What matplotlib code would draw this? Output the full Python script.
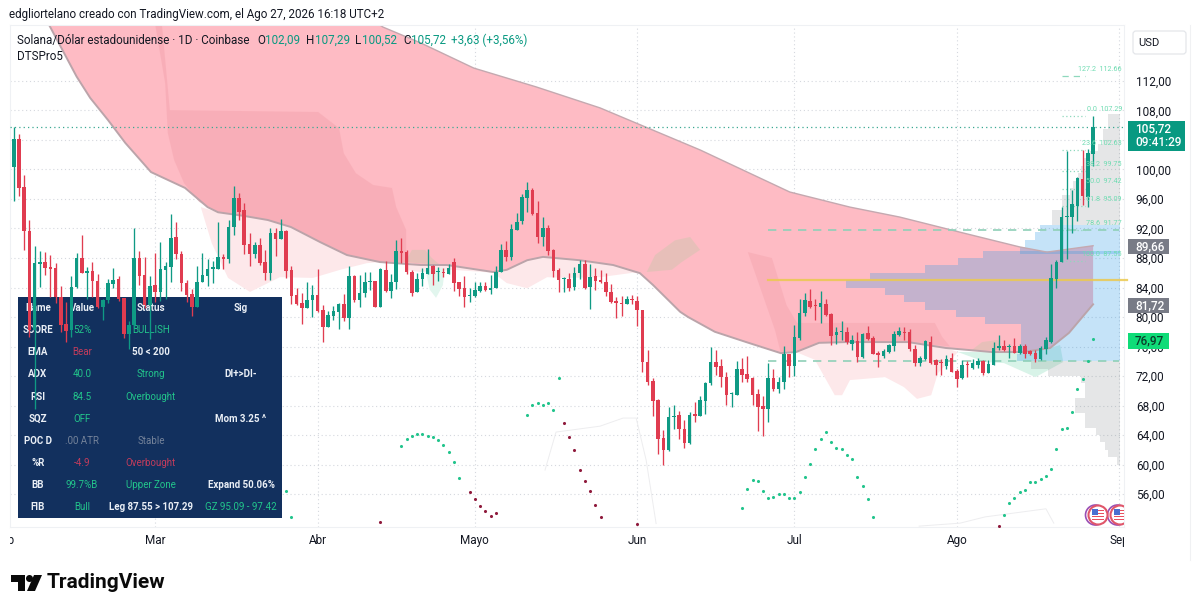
import numpy as np
import matplotlib
matplotlib.use('Agg')
import matplotlib.pyplot as plt
from matplotlib.patches import Rectangle, Circle, Polygon, FancyBboxPatch
from matplotlib.transforms import Affine2D, Bbox

# daily candles, 2 Feb -> 27 Ago
open_ = [100.38,104.2,97.6,91.7,78.2,87.2,87.4,86.8,86.6,82.75,
 79,78.2,84.1,87.95,85.9,86.2,84.9,81.3,82.3,84.5,
 85.1,82.6,77.7,78.9,87.95,85.7,81.6,84.3,83.4,86.4,
 86.8,90.9,88.6,84.55,83.1,81.4,84.75,85.6,86.5,86.55,
 88.1,87.9,92.25,96.1,94.5,89.9,88.6,89.7,87.4,85.9,
 91.35,90.6,91.6,86.4,83,81.9,81.2,82.3,83,81,
 78.7,80.1,80.7,81.75,79.8,85.55,82.3,83.2,84.7,84.9,
 81.4,86.4,83.5,84.8,89,88.75,86.05,83.35,85.1,85.85,
 86.95,86.05,86.15,85.85,87.4,84.7,83.9,82.9,82.9,83.5,
 84.15,83.7,84,86.05,89.05,88.1,91.8,93,96.2,97.2,
 94.05,90.9,92,89.1,86.35,85.1,85.15,84.05,85.9,87.25,
 84.1,85.55,85.05,84.8,83.45,82.15,81.85,81.75,82.45,82.15,
 81,73.95,71.3,68.75,63.55,61.95,66.4,66.65,64.8,62.95,
 66.85,66.6,68.65,71.1,73.85,73.35,71.9,69.5,69.4,73,
 72.25,71.75,69.55,67.95,67.5,71.75,70.25,71.2,74.95,73.35,
 77.2,80.5,82.2,81.65,81.4,81.75,80.4,77.55,78,78,
 76.4,76.75,74.6,77.8,77.2,75.15,74.7,75.3,76.05,77.55,
 78,77.9,75.65,73.7,74.3,76.65,74.15,73.85,73.35,74.4,
 72.7,71.7,73.65,73.15,73.5,74,72.45,73.5,75.85,76.05,
 75.9,76.05,75.15,76.05,75.4,75.15,74.3,75.6,76.65,85.1,
 87.5,93.6,93.6,95.05,98.65,96.3,102.09]
high = [105.8,104.8,99.25,93.1,89.6,89,88.85,88.4,87.3,84.2,
 82.1,85.5,88.7,91.1,86.75,87.5,85.8,82.5,85.2,86.6,
 85.5,82.6,79.4,92,89,88.2,85.5,88.7,90.2,87.4,
 93.9,92.9,88.95,85,83.75,86.9,88.7,87.9,87.6,92.9,
 88.55,93.1,97.7,96.8,95.5,91.35,90.2,90.65,89.1,92.1,
 92.1,93.25,91.8,86.9,84,83.2,84.8,84.4,86.5,81.6,
 80.85,81.5,81.95,83.1,86.9,85.7,85.7,86.15,86.15,84.9,
 86.6,87.6,85.8,90.45,90.75,89.1,86.4,86,86.7,89.2,
 87.05,86.8,86.6,87.15,87.95,84.8,85.5,83.9,84.7,84.8,
 84.8,85.7,86.9,89.85,90.3,92.65,94.05,96.65,98.25,97.45,
 95.75,93.5,92.45,89.2,86.6,85.45,85.9,86.8,87.7,87.7,
 87.25,86.7,86.35,85.9,84.45,82.75,82.9,82.9,83.05,82.9,
 81,75.5,71.75,68.85,64.7,67.85,68.05,67.25,66,67.15,
 68.5,69.3,71.15,75.95,75.5,74.3,72.5,69.9,74.1,74.5,
 74.75,71.8,70.2,69.3,73.7,72.9,71.8,76.1,75.05,78.85,
 82.5,83.2,83.75,82.5,83.5,82.45,80.6,78.7,79.45,78.7,
 77.55,78,77.8,78.8,77.45,75.45,75.6,76.4,78.1,78.7,
 78.6,78.4,76.2,74.7,76.9,77.4,74.3,74.3,74.85,75.15,
 73,74.15,74,74.3,74.5,74.15,74.15,76.55,77.55,76.9,
 76.4,77.1,76.4,76.3,75.5,75.5,76.05,77.25,87.2,87.7,
 94.95,102.55,97.2,99,102.7,102.8,107.29]
low = [95.7,96.4,89.1,77.3,67.5,84.1,85.7,82.75,81.85,78,
 76.6,77.3,84,85.9,82.5,82.75,81.2,79.6,81.85,83.9,
 82.2,77.1,75.7,78.5,84.3,81.2,77,82,82.2,82.5,
 84.8,87.8,83.55,82.1,80.2,81.4,84.75,84.2,84.6,86.5,
 86.5,87.3,91.1,93.1,88.55,86.95,87.95,87.05,85,85,
 88.3,90.6,85.25,81.75,81.6,79.05,81.2,80.05,80.7,76.65,
 78.7,79.6,78.4,79.5,78.35,82.1,81.3,82.65,83.65,81.3,
 81.3,83.4,82.6,83.85,87.3,85.8,82.9,83.35,84.2,85.85,
 84.4,84.9,85.45,85.8,83.55,82.9,81.3,82.1,82.75,83.4,
 83.55,83.1,83.9,86.05,87.6,87.7,91.75,92.55,94.2,93.8,
 90.05,89.65,88.4,85.45,83.35,83.45,83.55,83.65,85.15,83.8,
 81.15,83.65,84.55,82.9,81.95,79.8,80.15,81.7,81.7,78.8,
 72.5,70.8,66.6,61.4,60,61.85,64.8,63.45,62.3,62.85,
 65.8,66.6,66.8,70.8,72.2,70.55,68.05,67.85,69.4,71.2,
 71.2,68.05,64.6,63.9,65.8,70,69.65,70.25,71.8,72.05,
 76.9,80.2,81.2,79.6,79.15,80.1,76.2,76.4,76.9,76.4,
 75.5,73.95,74.4,76.9,74.95,73.25,74.4,75.15,75.4,77.4,
 76.9,75.4,73.4,73.35,74.15,73.6,72.1,72.1,72.9,72.5,
 70.45,71.6,71.8,73,73.15,72.2,72.35,73.5,75.5,75.4,
 74.5,75.15,74.95,74.5,74.85,73.95,74.15,75,76.5,83.9,
 87.5,87.8,91.35,93,95.2,94.9,100.52]
close = [104.2,97.5,91.7,78.2,87.27,87.4,86.7,86.55,82.75,78.9,
 78.1,84.1,87.95,85.9,86.2,84.9,81.4,82.3,84.6,85,
 82.4,77.7,78.9,87.95,85.6,81.6,84.25,83.4,86.5,86.9,
 90.7,88.5,84.6,83,81.3,84.8,85.7,86.5,86.75,88.1,
 87.85,92.25,96.1,94.3,89.8,88.6,89.7,87.3,86,91.35,
 90.6,91.6,86.3,82.85,81.7,81.2,82.3,83,80.85,78.7,
 80.3,80.8,81.75,79.8,85.5,82.3,83.2,84.7,84.85,81.3,
 86.45,83.5,84.8,89,88.7,86.05,83.3,85.15,86,86.7,
 85.8,86.1,86,86.7,84.55,83.8,82.75,82.95,83.65,84.2,
 83.65,84,86.05,89.05,88.1,91.9,92.9,96.3,97.2,94,
 90.9,92,89,86.3,85,85.35,84,85.95,87.25,84,
 85.45,84.9,84.7,83.45,82.05,81.85,81.8,82.4,82.25,81,
 73.85,71.2,68.65,63.45,61.95,66.4,66.6,64.75,62.95,66.7,
 66.6,68.75,71.1,73.85,73.25,71.8,69.4,69.6,73,72.2,
 71.6,69.4,67.85,67.5,71.75,70.2,71.2,74.95,73.35,77.35,
 80.5,82.3,81.4,81.5,81.85,80.25,77.45,77.9,78.05,76.55,
 76.9,74.6,77.7,77,75,74.85,75.45,76.2,77.7,78.1,
 77.85,75.65,73.7,74.5,76.8,73.8,73.5,73.7,74.3,72.5,
 71.6,73.5,73.5,73.7,74,72.35,73.6,75.85,76.05,75.5,
 76.05,75.15,76.05,75.05,75.05,74.3,75.85,76.9,85.25,87.5,
 93.5,93.7,95.3,98.8,96.4,102.2,105.72]

# moving averages (bar index, price)
ema50_idx = [3,6.9,12,14.6,18,21.3,26.2,32.7,37,39,44,48.5,52.9,58.5,63.6,69.9,77.7,82.7,91.5,94.1,98,101,108,114.4,119.5,
 122,127.2,128.7,133.8,139.8,146.4,149.3,153.7,158.8,170.7,177.9,186.7,192.6,197.8,201.4,206]
ema50_val = [124,119.4,112.6,109.7,106.7,103.6,99.65,97.5,94.9,94.2,93.7,93.15,92.2,90.15,88.4,87.45,87.05,87.05,86.1,86.4,87.7,88.15,87.7,87.05,85.95,
 84.35,80.7,80,78,76.6,75.1,75.25,76.5,76.6,76.6,75.8,75.25,75.25,75.8,77.85,81.72]
ema200_idx = [60,70.5,77.7,87.8,99.7,111.9,131,148.1,159.6,169.1,180.6,192,197.2,206]
ema200_val = [124,119.3,117.15,113.75,111.2,108.35,102.65,96.95,94.9,93.55,91.5,89.5,88.8,89.66]

# darker bands on the cloud
zone1_idx = [27,28.3,29.8,58.1,62.1,63,65.3,68.6,72.2,73,74.9,74.9,69.9,63.6,58.5,52.9,48.5,39,35.4,32.5,30.6,29.4,28.9]
zone1_val = [119.6,119.6,108.05,107.8,105.6,102.2,99.5,97.9,97.5,94.9,91.8,87.45,87.45,88.4,90.15,92.2,93.15,94.2,95.6,98.15,101.3,104.95,111.7]
zone2_idx = [140.1,144.7,147.5,149.5,175.8,177.2,178.7,170.7,158.8,153.7,149.3,146.4,145.3]
zone2_val = [88.8,88,81.6,79.2,79.2,77.3,76,76.6,76.6,76.5,75.25,75.1,78.2]

# pale areas under the cloud
pale1_idx = [35.7,37.8,40.9,45.1,50.8,57.1,62.3,67.4,69.9,63.6,58.5,52.9,48.5,39]
pale1_val = [94.9,90,85.3,83.4,85.4,85.3,86.4,87.3,87.45,88.4,90.15,92.2,93.15,94.2]
pale2_idx = [74.9,77.5,83.9,91.5,94.1,98,101.8,105.6,111.9,118.2,119.5,114.4,108,101,98,94.1,91.5,82.7,77.7,74.9]
pale2_val = [86.4,86.1,86.4,86,84.6,83.9,85.4,85.3,85.4,86,85.95,87.05,87.7,88.15,87.7,86.4,86.1,87.05,87.05,87.4]
pale3_idx = [149.3,152.9,156.7,158.1,159.6,166.3,169.9,172.4,175.1,176.4,180.2,177.9,170.7,158.8,153.7]
pale3_val = [75.25,74.2,69.4,69.4,71.45,71.85,70.5,68.9,69.4,72.4,75.25,75.8,76.6,76.6,76.5]
mint1_idx = [78.5,82.3,81.9,80.6,79.4]
mint1_val = [86.6,86.6,84.3,82.6,83.7]
mint2_idx = [180.2,186.7,192.6,197.8,199.7,200.3,195,189,185.4]
mint2_val = [75.25,75.25,75.25,75.8,76.2,73.9,71.85,73.75,73.9]
olive1_idx = [74.7,76,78.5,79.8,81.4]
olive1_val = [87.45,89.1,89.1,88,87.05]
olive2_idx = [120.8,122.4,126.2,129.1,131,127.5,125.6]
olive2_val = [86.1,88.4,90.4,90.85,89.1,87.45,86.4]
olive3_idx = [182.8,184.8,187.8,188.6]
olive3_val = [75.5,76.6,76.9,75.5]

# volume profile: bin price and left edge as bar index
vp_price = [107,106,105,104,103,102,101,100,99,98,97,96,95,94,93,92,91,90,89,88.5,87.5,86.5,85.5,84.5,83.5,82.5,81.5,80.5,79.5,
 78.5,77.5,76.5,75.5,74.5,73.5,72.5,71.5,70.5,69.5,68.5,67.5,66.5,65.5,64.5,63.5,62.5,61.5,60.5]
vp_left = [208.8,208.8,207.9,207.9,206.9,205.5,204.1,203.6,203.1,202.2,201.6,200.1,200.1,198.1,198.1,195.9,194.9,193,192,
 185,180.2,173.9,163.4,158.8,166.3,169.9,173.9,179.8,185.4,192.2,192.2,192.2,192.2,191.5,194.2,197.4,203.7,204.5,204.5,202.5,202.5,204.5,204.5,206.6,207.3,208.3,208.8,210.5]

fib_lvl = ['127.2','0.0','23.6','38.2','50.0','61.8','78.6','100.0']
fib_val = [112.66,107.29,102.63,99.75,97.42,95.09,91.77,87.55]

# dots near the bottom
dotg_idx = [52,53,74,75,76,77,78,79,80,81,82,83,84,85,98,99,100,101,102,103,104,
 139,140,141,142,143,144,145,146,147,148,149,150,151,152,153,154,155,156,157,158,159,160,161,162,163,164,
 189,190,191,192,193,194,195,196,197,198,199,200,201,202,203,204,205,206]
dotg_val = [56.4,52.9,62.5,63.45,63.85,64.15,64.15,63.85,63.7,63.3,62.6,61.7,60.35,58.15,66.7,68.05,68.3,68.05,68.3,67.4,71.7,
 54.1,56.7,57.9,57.8,56.4,55.45,55.6,56,56,55.45,55.45,56.3,58.3,60.05,62.1,63.45,64.4,63.05,62.25,62.1,61.3,60.75,58.3,57.1,55.3,52.9,
 53.15,54.8,55.45,56.3,56.55,57.65,57.65,58.05,58.45,59.4,62.1,64.8,64.95,67.1,70.25,71.6,74.05,76.97]
dotr_idx = [70,87,88,89,90,91,92,105,106,107,108,109,110,111,112,119,188]
dotr_val = [52.2,56.25,55.3,54.4,53.7,53,53.4,65.6,63.7,61.95,59.25,57.8,56.4,54.5,52.9,51.9,51.65]

# faint line at the bottom
adx1_idx = [101.4,103.5,111.9,116.3,118.8,120.7,122.6]
adx1_val = [59.25,64.4,65.2,66.3,66.3,60.6,52]
adx2_idx = [172.8,180.6,185.4,197,198.5]
adx2_val = [51.65,52.05,52.9,54,52.05]

yticks = [112,108,104,100,96,92,88,84,80,76,72,68,64,60,56]
month_idx = [27,58,88,119,149,180,211]
month_lbl = ['Mar','Abr','Mayo','Jun','Jul','Ago','Sep']

table_rows = [
 ['Name','Value','Status','Sig'],
 ['SCORE','52%','BULLISH',''],
 ['EMA','Bear','50 < 200',''],
 ['ADX','40.0','Strong','DI+>DI-'],
 ['RSI','84.5','Overbought',''],
 ['SQZ','OFF','','Mom 3.25 ^'],
 ['POC D','.00 ATR','Stable',''],
 ['%R','-4.9','Overbought',''],
 ['BB','99.7%B','Upper Zone','Expand 50.06%'],
 ['FIB','Bull','Leg 87.55 > 107.29','GZ 95.09 - 97.42'],
]
W = '#e9eef5'; G = '#22c58b'; R = '#c43c5c'; D = '#75839a'
table_cols = [
 [W,W,W,W],
 [W,G,G,W],
 [W,R,W,W],
 [W,G,G,W],
 [W,G,G,W],
 [W,G,G,W],
 [W,D,D,W],
 [W,R,R,W],
 [W,G,G,W],
 [W,G,W,G],
]

plt.rcParams['font.family'] = ['Roboto', 'DejaVu Sans']
UP = '#0f9a84'
DOWN = '#e03c50'

fig = plt.figure(figsize=(12, 6.12), dpi=100, facecolor='white')
ax = fig.add_axes([10/1200, 1-527/612, 1114/1200, 502/612])
px = Affine2D().scale(1/1200, -1/612).translate(0, 1) + fig.transFigure

ax.set_xlim(-0.71, 211.9)
ax.set_ylim(51.53, 119.59)
ax.set_axisbelow(True)
ax.yaxis.tick_right()
ax.set_yticks(yticks)
# 104 sits behind the last price tag
ax.set_yticklabels(['' if v == 104 else '%d,00' % v for v in yticks], fontsize=8.5, color='#131722')
ax.set_xticks(month_idx)
ax.set_xticklabels(month_lbl, fontsize=8.5, color='#131722')
ax.tick_params(length=0)
ax.tick_params(axis='y', pad=8.5)
ax.tick_params(axis='x', pad=5)
ax.grid(True, color='#d5d8de', ls=(0, (1, 2.5)), lw=0.8)
for s in ax.spines.values():
    s.set_color('#eff1f4')
    s.set_linewidth(0.8)
for lbl in ax.get_xticklabels():
    lbl.set_clip_box(Bbox([[10, 0], [1124, 612]]))
    lbl.set_clip_on(True)
feb = ax.text(5, 540, 'Feb', transform=px, fontsize=8.5, color='#131722', ha='center', va='center')
feb.set_clip_box(Bbox([[10, 0], [1124, 612]]))
feb.set_clip_on(True)

# cloud
ax.fill(np.r_[ema50_idx, ema200_idx[::-1]], np.r_[ema50_val, ema200_val[::-1]], color='#febbc4', lw=0, zorder=1)
ax.fill(zone1_idx, zone1_val, color='#f4a3ad', alpha=0.5, lw=0, zorder=1.1)
ax.fill(zone2_idx, zone2_val, color='#f4a3ad', alpha=0.45, lw=0, zorder=1.1)
for xs, ys in [(pale1_idx, pale1_val), (pale2_idx, pale2_val), (pale3_idx, pale3_val)]:
    ax.fill(xs, ys, color='#fde8ea', lw=0, zorder=1.1)
ax.fill(mint1_idx, mint1_val, color='#e2f6ee', lw=0, zorder=1.1)
ax.fill(mint2_idx, mint2_val, color='#d8f3e8', lw=0, zorder=1.1)
for xs, ys in [(olive1_idx, olive1_val), (olive2_idx, olive2_val), (olive3_idx, olive3_val)]:
    ax.fill(xs, ys, color='#c4c8a8', alpha=0.38, lw=0, zorder=1.2)

# volume profile
vp_right = 211.1
vp_price = np.array(vp_price)
vp_left = np.array(vp_left)
in_va = (vp_price < 92.5) & (vp_price > 74)
ax.barh(vp_price[in_va], vp_right - vp_left[in_va], left=vp_left[in_va], height=1.0, color='#309be6', alpha=0.28, lw=0, zorder=1.5)
ax.barh(vp_price[~in_va], vp_right - vp_left[~in_va], left=vp_left[~in_va], height=1.0, color='#7d8588', alpha=0.2, lw=0, zorder=1.5)

ax.plot(ema50_idx, ema50_val, color='#bba4aa', lw=1.4, zorder=2, solid_joinstyle='round')
ax.plot(ema200_idx, ema200_val, color='#c4a9b0', lw=1.0, zorder=2, solid_joinstyle='round')
ax.plot(adx1_idx, adx1_val, color='#ededef', lw=0.7, zorder=2)
ax.plot(adx2_idx, adx2_val, color='#ededef', lw=0.7, zorder=2)

# levels
ax.hlines(105.72, -0.71, 211.9, color='#3aa892', linestyles=(0, (1, 2.5)), lw=0.9, zorder=3)
ax.hlines(91.77, 144, 211, color='#8fd0b8', linestyles=(0, (5, 4)), lw=1.2, zorder=3)
ax.hlines(74.03, 144, 211, color='#8fd0b8', linestyles=(0, (5, 4)), lw=1.2, zorder=3)
ax.plot([144, 212.4], [85, 85], color='#ebc94f', lw=1.6, alpha=0.85, zorder=3, clip_on=False)
for lvl, val in zip(fib_lvl, fib_val):
    ls = (0, (5, 4)) if lvl == '127.2' else (0, (1, 2))
    ax.hlines(val, 200, 204.5, color='#8fd8bd', linestyles=ls, lw=0.9, zorder=3)
    ax.annotate(lvl + '  ' + ('%.2f' % val), (211.5, val), xytext=(0, 2.2), textcoords='offset points',
                ha='right', va='bottom', fontsize=5.2, color='#6fdcb2', zorder=6)

# table panel under the candles
ax.add_patch(Rectangle((18, 297), 264, 221, transform=px, color='#12305e', lw=0, zorder=3.5, clip_on=False))
col_x = [38, 82, 151, 241]
row_y = [308, 330, 352, 374, 397, 419, 441, 463, 485, 507]
for r, cells in enumerate(table_rows):
    for k, txt in enumerate(cells):
        if txt:
            ax.text(col_x[k], row_y[r], txt, transform=px, ha='center', va='center', fontsize=7,
                    color=table_cols[r][k], fontweight='bold' if table_cols[r][k] == W else 'normal', zorder=3.6)

# candles
open_ = np.array(open_); high = np.array(high); low = np.array(low); close = np.array(close)
days = np.arange(len(close))
cols = np.where(close >= open_, UP, DOWN)
ax.vlines(days, low, high, colors=cols, lw=0.95, zorder=4)
ax.bar(days, np.maximum(np.abs(close - open_), 0.15), bottom=np.minimum(open_, close), width=0.68, color=cols, lw=0, zorder=4.1)

# dots
ax.scatter(dotg_idx, dotg_val, s=5, color='#22c48c', lw=0, zorder=4.5)
ax.scatter(dotr_idx, dotr_val, s=5, color='#8f1a3c', lw=0, zorder=4.5)

# flag markers
for cx in [1098, 1120]:
    ax.add_patch(Circle((cx - 2.5, 515), 10, transform=px, fc='white', ec='#9a4fb5', lw=1.2, zorder=7))
    ax.add_patch(Circle((cx, 515), 9.5, transform=px, fc='white', ec='#e0566a', lw=1.5, zorder=7.1))
    ax.add_patch(Rectangle((cx - 6, 509), 6, 5.5, transform=px, color='#4a6fd0', lw=0, zorder=7.2))
    ax.add_patch(Rectangle((cx - 6, 515.5), 12, 1.6, transform=px, color='#e8505f', lw=0, zorder=7.2))
    ax.add_patch(Rectangle((cx - 6, 518.5), 12, 1.6, transform=px, color='#e8505f', lw=0, zorder=7.2))
    ax.add_patch(Rectangle((cx, 509.5), 6, 1.6, transform=px, color='#e8505f', lw=0, zorder=7.2))
    ax.add_patch(Rectangle((cx, 512.5), 6, 1.6, transform=px, color='#e8505f', lw=0, zorder=7.2))

# price tags on the scale
def tag(x0, y0, w, h, color, lines, tcol='white', fs=8.5):
    ax.add_patch(Rectangle((x0, y0), w, h, transform=px, color=color, lw=0, zorder=10, clip_on=False))
    for (t, y) in lines:
        ax.text(x0 + 7, y, t, transform=px, ha='left', va='center', color=tcol, fontsize=fs, fontweight='medium', zorder=11)

tag(1128, 121, 57, 30, '#089981', [('105,72', 128.5), ('09:41:29', 142.5)])
tag(1128, 239, 41, 15, '#787b86', [('89,66', 246.5)])
tag(1128, 298, 41, 15, '#787b86', [('81,72', 305.5)])
tag(1128, 333, 41, 16, '#0fdc78', [('76,97', 341)], tcol='#0b3b2a')

# usd button
ax.add_patch(FancyBboxPatch((1133, 31), 53, 23, boxstyle='round,pad=0,rounding_size=3', transform=px,
                            fc='white', ec='#e4e6ea', lw=0.9, zorder=10, clip_on=False))
ax.text(1149, 43, 'USD', transform=px, ha='center', va='center', fontsize=8, color='#131722', zorder=11)

# titles
ax.text(9, 14.5, 'edgliortelano creado con TradingView.com, el Ago 27, 2026 16:18 UTC+2', transform=px,
        va='center', fontsize=8.4, color='#131722', zorder=11)
DK = '#131722'; GN = '#089981'
for x, t, c in [(17, 'Solana/Dólar estadounidense · 1D · Coinbase', DK), (257, 'O', DK), (265, '102,09', GN),
                (306, 'H', DK), (315, '107,29', GN), (355, 'L', DK), (362, '100,52', GN),
                (403, 'C', DK), (411, '105,72', GN), (451, '+3,63 (+3,56%)', GN)]:
    ax.text(x, 40.5, t, transform=px, va='center', fontsize=8.4, color=c, zorder=11)
ax.text(17, 57, 'DTSPro5', transform=px, va='center', fontsize=8.4, color=DK, zorder=11)

# logo and wordmark
lg = dict(transform=px, color='#0a0a0a', lw=0, clip_on=False, zorder=11)
ax.add_patch(Polygon([(11, 575), (25, 575), (25, 591), (18, 591), (18, 582), (11, 582)], **lg))
ax.add_patch(Circle((29.5, 578.5), 3.5, **lg))
ax.add_patch(Polygon([(34, 575), (42, 575), (35, 591), (27, 591)], **lg))
ax.text(47, 583, 'TradingView', transform=px, va='center', fontsize=15, fontweight='bold', color='#0a0a0a', zorder=11)

# page edge on the right
fig.add_artist(plt.Line2D([1190/1200, 1190/1200], [1-560/612, 1-25/612], color='#f0f1f3', lw=0.8))

fig.savefig('out.png', dpi=100, facecolor='white')
